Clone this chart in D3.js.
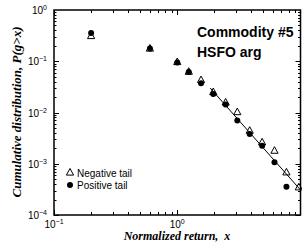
<!DOCTYPE html>
<html>
<head>
<meta charset="utf-8">
<style>
body { margin: 0; background: #fff; }
svg { display: block; }
.ticklab { font: 10px "Liberation Sans", Arial, sans-serif; fill: #000; }
.axlab { font-family: "Liberation Serif", "Times New Roman", serif; font-weight: bold; font-style: italic; fill: #000; }
.legend { font: 10px "Liberation Sans", Arial, sans-serif; fill: #000; }
.title { font: bold 14px "Liberation Sans", Arial, sans-serif; fill: #000; }
</style>
</head>
<body>
<svg width="302" height="250"></svg>
<script src="https://d3js.org/d3.v7.min.js"></script>
<script>

// values
var xVals   = [0.2, 0.6, 1.0, 1.24, 1.56, 1.96, 2.47, 3.07, 3.87, 4.88, 6.15, 7.69, 9.69];
var negTail = [0.311, 0.177, 0.0967, 0.0625, 0.043, 0.0251, 0.0157, 0.0102, 0.00442, 0.00262, 0.0018, 0.00068, 0.000347];
var posTail = [0.356, 0.177, 0.0946, 0.0617, 0.0371, 0.023, 0.0143, 0.00698, 0.0038, 0.00225, 0.00107, 0.000357];
var fitLine = [[1.85, 0.0300], [10, 0.000308]];
var xMajor = [0.1, 1];
var yMajor = [1, 0.1, 0.01, 0.001, 0.0001];
var xExp = ["\u22121", "0"];
var yExp = ["0", "\u22121", "\u22122", "\u22123", "\u22124"];

var svg = d3.select("svg"),
    margin = {top: 10, right: 1.5, bottom: 35, left: 54},
    W = +svg.attr("width"), H = +svg.attr("height");

var x = d3.scaleLog().domain([0.1, 10]).range([margin.left, W - margin.right]);
var y = d3.scaleLog().domain([1e-4, 1]).range([H - margin.bottom, margin.top]);

var x0 = x.range()[0], x1 = x.range()[1], y0 = y.range()[0], y1 = y.range()[1];

// minor + major ticks (inward on all four sides)
var xt = [], yt = [];
[0.1, 1].forEach(function(d) { for (var k = 1; k < 10; k++) xt.push(d * k); });
[1e-4, 1e-3, 1e-2, 1e-1].forEach(function(d) { for (var k = 1; k < 10; k++) yt.push(d * k); });

var ticks = svg.append("g").attr("stroke", "#000").attr("stroke-width", 1);
xt.forEach(function(d) {
  var L = xMajor.indexOf(d) >= 0 ? 5 : 3, px = Math.round(x(d)) + 0.5;
  ticks.append("line").attr("x1", px).attr("x2", px).attr("y1", y0).attr("y2", y0 - L);
  ticks.append("line").attr("x1", px).attr("x2", px).attr("y1", y1).attr("y2", y1 + L);
});
yt.forEach(function(d) {
  var L = yMajor.indexOf(d) >= 0 ? 5 : 2.5, py = Math.round(y(d)) + 0.5;
  ticks.append("line").attr("x1", x0).attr("x2", x0 + L).attr("y1", py).attr("y2", py);
  ticks.append("line").attr("x1", x1).attr("x2", x1 - L).attr("y1", py).attr("y2", py);
});

svg.append("rect")
  .attr("x", x0).attr("y", y1).attr("width", x1 - x0).attr("height", y0 - y1)
  .attr("fill", "none").attr("stroke", "#000").attr("stroke-width", 1.5);

// tick labels
xMajor.forEach(function(d, i) {
  var t = svg.append("text").attr("class", "ticklab")
    .attr("x", x(d)).attr("y", y0 + 13).attr("text-anchor", "middle");
  t.append("tspan").text("10");
  t.append("tspan").attr("dy", -4).attr("font-size", 7).text(xExp[i]);
});
yMajor.forEach(function(d, i) {
  var t = svg.append("text").attr("class", "ticklab")
    .attr("x", 47).attr("y", y(d) + 4).attr("text-anchor", "end");
  t.append("tspan").text("10");
  t.append("tspan").attr("dy", -4).attr("font-size", 7).text(yExp[i]);
});

// axis titles
svg.append("text").attr("class", "axlab")
  .attr("x", 177).attr("y", 240).attr("text-anchor", "middle")
  .attr("font-size", 12).style("white-space", "pre")
  .text("Normalized return,  x");

svg.append("text").attr("class", "axlab")
  .attr("transform", "translate(21,112) rotate(-90)")
  .attr("text-anchor", "middle").attr("font-size", 13)
  .text("Cumulative distribution, P(g>x)");

// fit line
svg.append("path")
  .attr("d", d3.line().x(function(d) { return x(d[0]); }).y(function(d) { return y(d[1]); })(fitLine))
  .attr("fill", "none").attr("stroke", "#000").attr("stroke-width", 1);

function tri(cx, cy) {
  return "M" + cx + "," + (cy - 4) + "L" + (cx + 3.6) + "," + (cy + 2.6) + "L" + (cx - 3.6) + "," + (cy + 2.6) + "Z";
}

svg.append("g").selectAll("circle")
  .data(posTail).enter().append("circle")
  .attr("cx", function(d, i) { return x(xVals[i]); })
  .attr("cy", function(d) { return y(d); })
  .attr("r", 3).attr("fill", "#000");

svg.append("g").selectAll("path")
  .data(negTail).enter().append("path")
  .attr("d", function(d, i) { return tri(x(xVals[i]), y(d)); })
  .attr("fill", "none").attr("stroke", "#000").attr("stroke-width", 1);

// legend
svg.append("path").attr("d", tri(70, 172.5)).attr("fill", "none").attr("stroke", "#000");
svg.append("text").attr("class", "legend").attr("x", 77).attr("y", 176.5).text("Negative tail");
svg.append("circle").attr("cx", 70).attr("cy", 185).attr("r", 3).attr("fill", "#000");
svg.append("text").attr("class", "legend").attr("x", 77).attr("y", 189).text("Positive tail");

// annotation
svg.append("text").attr("class", "title").attr("x", 197).attr("y", 37).text("Commodity #5");
svg.append("text").attr("class", "title").attr("x", 197).attr("y", 57).text("HSFO arg");

</script>
</body>
</html>
